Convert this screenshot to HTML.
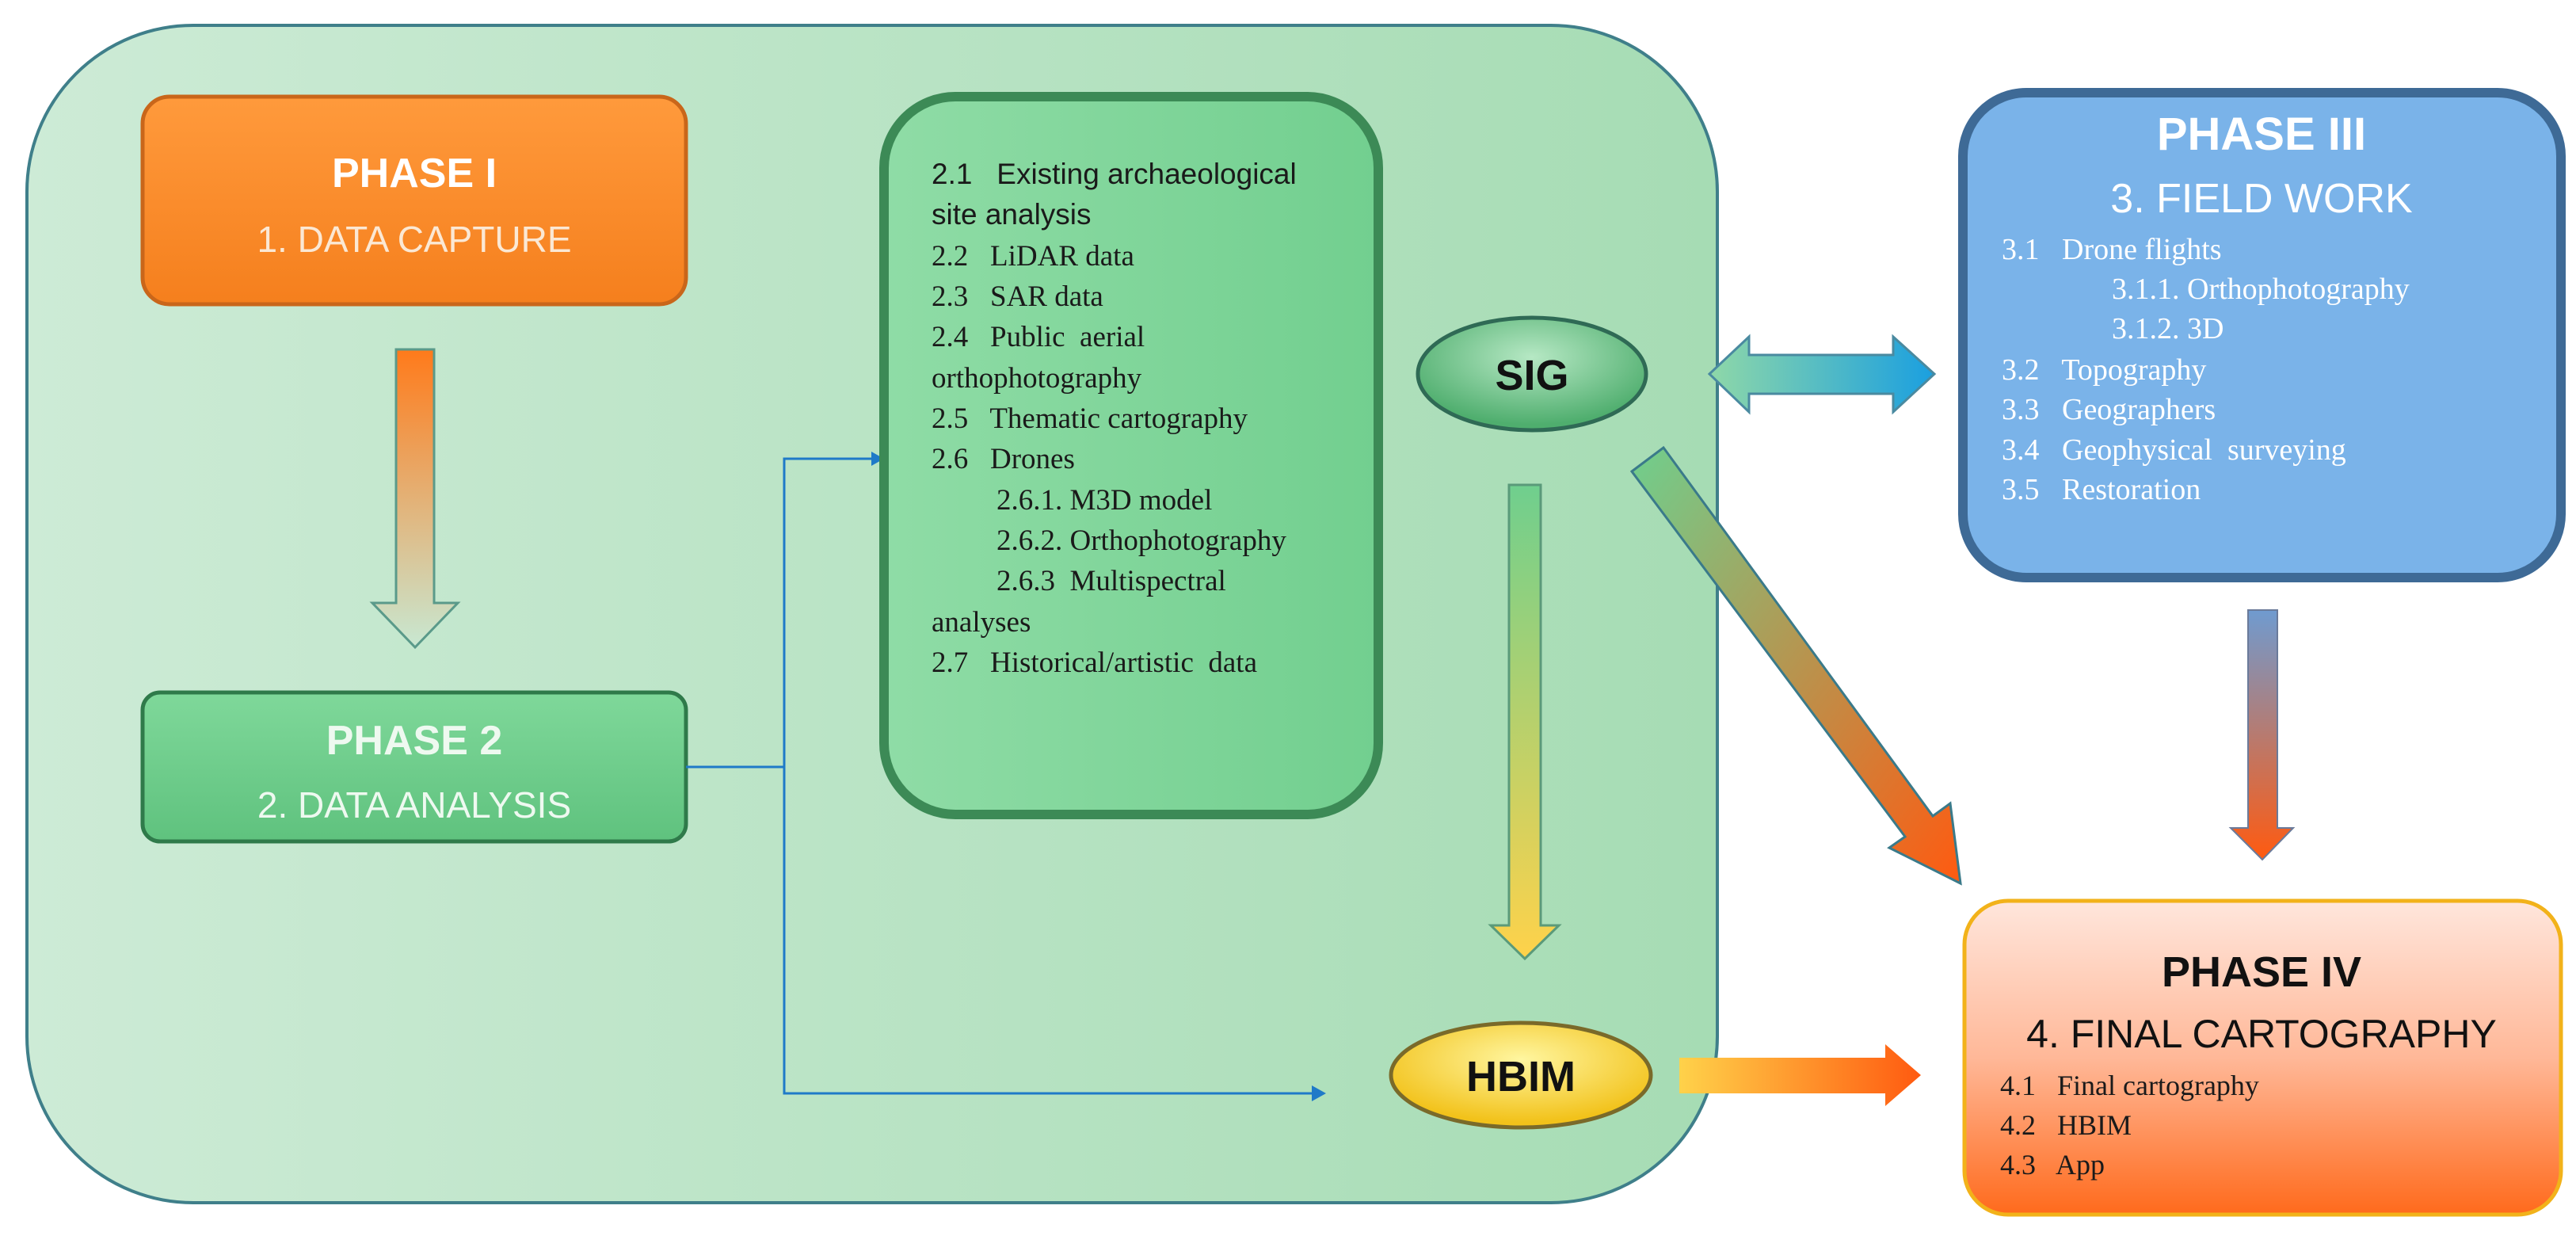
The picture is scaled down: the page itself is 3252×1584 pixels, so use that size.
<!DOCTYPE html>
<html><head><meta charset="utf-8"><style>
html,body{margin:0;padding:0;background:#fff;}
svg{display:block;}
text{white-space:pre;}
.s{font-family:"Liberation Sans",sans-serif;}
.r{font-family:"Liberation Serif",serif;}
</style></head><body>
<svg width="3252" height="1584" viewBox="0 0 3252 1584" xmlns="http://www.w3.org/2000/svg" xml:space="preserve">
<defs>
<linearGradient id="bg" x1="0" y1="0" x2="1" y2="0"><stop offset="0" stop-color="#cdebd6"/><stop offset="1" stop-color="#a6dcb4"/></linearGradient>
<linearGradient id="org" x1="0" y1="0" x2="0" y2="1"><stop offset="0" stop-color="#ff9a3c"/><stop offset="1" stop-color="#f57f1d"/></linearGradient>
<linearGradient id="gr2" x1="0" y1="0" x2="0" y2="1"><stop offset="0" stop-color="#7fd89a"/><stop offset="1" stop-color="#5fc27e"/></linearGradient>
<linearGradient id="list" x1="0" y1="0" x2="1" y2="0"><stop offset="0" stop-color="#8fdca6"/><stop offset="1" stop-color="#72cf8f"/></linearGradient>
<linearGradient id="a1" x1="0" y1="0" x2="0" y2="1"><stop offset="0" stop-color="#ff7a1a"/><stop offset="1" stop-color="#c8e8d2"/></linearGradient>
<linearGradient id="a2" x1="0" y1="0" x2="0" y2="1"><stop offset="0" stop-color="#6fcf8e"/><stop offset="1" stop-color="#ffd24a"/></linearGradient>
<linearGradient id="a3" x1="0" y1="0" x2="1" y2="1"><stop offset="0" stop-color="#6fcf8e"/><stop offset="1" stop-color="#ff5a10"/></linearGradient>
<linearGradient id="a4" x1="0" y1="0" x2="0" y2="1"><stop offset="0" stop-color="#6f9bd0"/><stop offset="1" stop-color="#ff5a10"/></linearGradient>
<linearGradient id="a5" x1="0" y1="0" x2="1" y2="0"><stop offset="0" stop-color="#ffd24a"/><stop offset="1" stop-color="#ff5a10"/></linearGradient>
<linearGradient id="a6" x1="0" y1="0" x2="1" y2="0"><stop offset="0" stop-color="#8fd8a8"/><stop offset="1" stop-color="#1a9fe0"/></linearGradient>
<linearGradient id="p4" x1="0" y1="0" x2="0" y2="1"><stop offset="0" stop-color="#ffe6dc"/><stop offset="0.5" stop-color="#ffb898"/><stop offset="1" stop-color="#ff6a1c"/></linearGradient>
<radialGradient id="sig" cx="0.5" cy="0.35" r="0.6"><stop offset="0" stop-color="#b6e8c4"/><stop offset="1" stop-color="#4fae6e"/></radialGradient>
<radialGradient id="hb" cx="0.5" cy="0.35" r="0.6"><stop offset="0" stop-color="#fff6a0"/><stop offset="1" stop-color="#f2c21a"/></radialGradient>
</defs>

<rect x="34" y="32" width="2134" height="1486" rx="210" fill="url(#bg)" stroke="#3f7f8a" stroke-width="4"/>

<rect x="180" y="122" width="686" height="262" rx="34" fill="url(#org)" stroke="#c9661a" stroke-width="5"/>
<text x="523" y="236" text-anchor="middle" class="s" font-size="52" font-weight="bold" fill="#fff">PHASE I</text>
<text x="523" y="318" text-anchor="middle" class="s" font-size="46" fill="#fbe8d4">1. DATA CAPTURE</text>

<path d="M500 441 H548 V761 H578 L524 817 L470 761 H500 Z" fill="url(#a1)" stroke="#5a9a8a" stroke-width="3"/>

<rect x="180" y="874" width="686" height="188" rx="22" fill="url(#gr2)" stroke="#2f7a4a" stroke-width="5"/>
<text x="523" y="952" text-anchor="middle" class="s" font-size="52" font-weight="bold" fill="#eef9f0">PHASE 2</text>
<text x="523" y="1032" text-anchor="middle" class="s" font-size="46" fill="#eef9f0">2. DATA ANALYSIS</text>

<path d="M866 968 H990 V579 H1105" fill="none" stroke="#1f7ac8" stroke-width="3"/>
<path d="M1100 570 L1116 579 L1100 588 Z" fill="#1f7ac8"/>
<path d="M990 968 V1380 H1662" fill="none" stroke="#1f7ac8" stroke-width="3"/>
<path d="M1656 1370 L1674 1380 L1656 1390 Z" fill="#1f7ac8"/>

<rect x="1116" y="122" width="624" height="906" rx="90" fill="url(#list)" stroke="#3c8a56" stroke-width="12"/>
<g font-size="37" fill="#1a1a1a">
<text x="1176" y="232" class="s">2.1   Existing archaeological</text>
<text x="1176" y="283" class="s">site analysis</text>
<text x="1176" y="335" class="r">2.2   LiDAR data</text>
<text x="1176" y="386" class="r">2.3   SAR data</text>
<text x="1176" y="437" class="r">2.4   Public  aerial</text>
<text x="1176" y="489" class="r">orthophotography</text>
<text x="1176" y="540" class="r">2.5   Thematic cartography</text>
<text x="1176" y="591" class="r">2.6   Drones</text>
<text x="1258" y="643" class="r">2.6.1. M3D model</text>
<text x="1258" y="694" class="r">2.6.2. Orthophotography</text>
<text x="1258" y="745" class="r">2.6.3  Multispectral</text>
<text x="1176" y="797" class="r">analyses</text>
<text x="1176" y="848" class="r">2.7   Historical/artistic  data</text>
</g>

<ellipse cx="1934" cy="472" rx="144" ry="71" fill="url(#sig)" stroke="#2f6a55" stroke-width="5"/>
<text x="1934" y="492" text-anchor="middle" class="s" font-size="54" font-weight="bold" fill="#111">SIG</text>

<path d="M1905 612 H1945 V1168 H1968 L1925 1210 L1882 1168 H1905 Z" fill="url(#a2)" stroke="#5a9a7a" stroke-width="3"/>

<path d="M2060 595 L2100 565 L2440 1030 L2462 1014 L2475 1115 L2385 1070 L2405 1056 Z" fill="url(#a3)" stroke="#3a7a8a" stroke-width="3"/>

<path d="M2158 472 L2208 425 V448 H2390 V425 L2442 472 L2390 520 V497 H2208 V520 Z" fill="url(#a6)" stroke="#4a8aa0" stroke-width="3"/>

<ellipse cx="1920" cy="1357" rx="164" ry="66" fill="url(#hb)" stroke="#7a6a2a" stroke-width="5"/>
<text x="1920" y="1377" text-anchor="middle" class="s" font-size="54" font-weight="bold" fill="#111">HBIM</text>

<path d="M2120 1335 H2380 V1318 L2425 1357 L2380 1396 V1380 H2120 Z" fill="url(#a5)"/>

<rect x="2478" y="117" width="755" height="612" rx="80" fill="#7ab3e9" stroke="#3e6a96" stroke-width="12"/>
<text x="2855" y="189" text-anchor="middle" class="s" font-size="58" font-weight="bold" fill="#fff">PHASE III</text>
<text x="2855" y="268" text-anchor="middle" class="s" font-size="52" fill="#fff">3. FIELD WORK</text>
<g font-size="38" fill="#fff">
<text x="2527" y="327" class="r">3.1   Drone flights</text>
<text x="2666" y="377" class="r">3.1.1. Orthophotography</text>
<text x="2666" y="427" class="r">3.1.2. 3D</text>
<text x="2527" y="479" class="r">3.2   Topography</text>
<text x="2527" y="529" class="r">3.3   Geographers</text>
<text x="2527" y="580" class="r">3.4   Geophysical  surveying</text>
<text x="2527" y="630" class="r">3.5   Restoration</text>
</g>

<path d="M2838 770 H2875 V1045 H2895 L2856 1085 L2816 1045 H2838 Z" fill="url(#a4)" stroke="#6a7a9a" stroke-width="2"/>

<rect x="2480" y="1137" width="753" height="396" rx="55" fill="url(#p4)" stroke="#f2b21a" stroke-width="5"/>
<text x="2855" y="1245" text-anchor="middle" class="s" font-size="54" font-weight="bold" fill="#111">PHASE IV</text>
<text x="2855" y="1322" text-anchor="middle" class="s" font-size="50" fill="#111">4. FINAL CARTOGRAPHY</text>
<g font-size="36" fill="#1a1a1a">
<text x="2525" y="1382" class="r">4.1   Final cartography</text>
<text x="2525" y="1432" class="r">4.2   HBIM</text>
<text x="2525" y="1482" class="r">4.3   App</text>
</g>
</svg>
</body></html>
